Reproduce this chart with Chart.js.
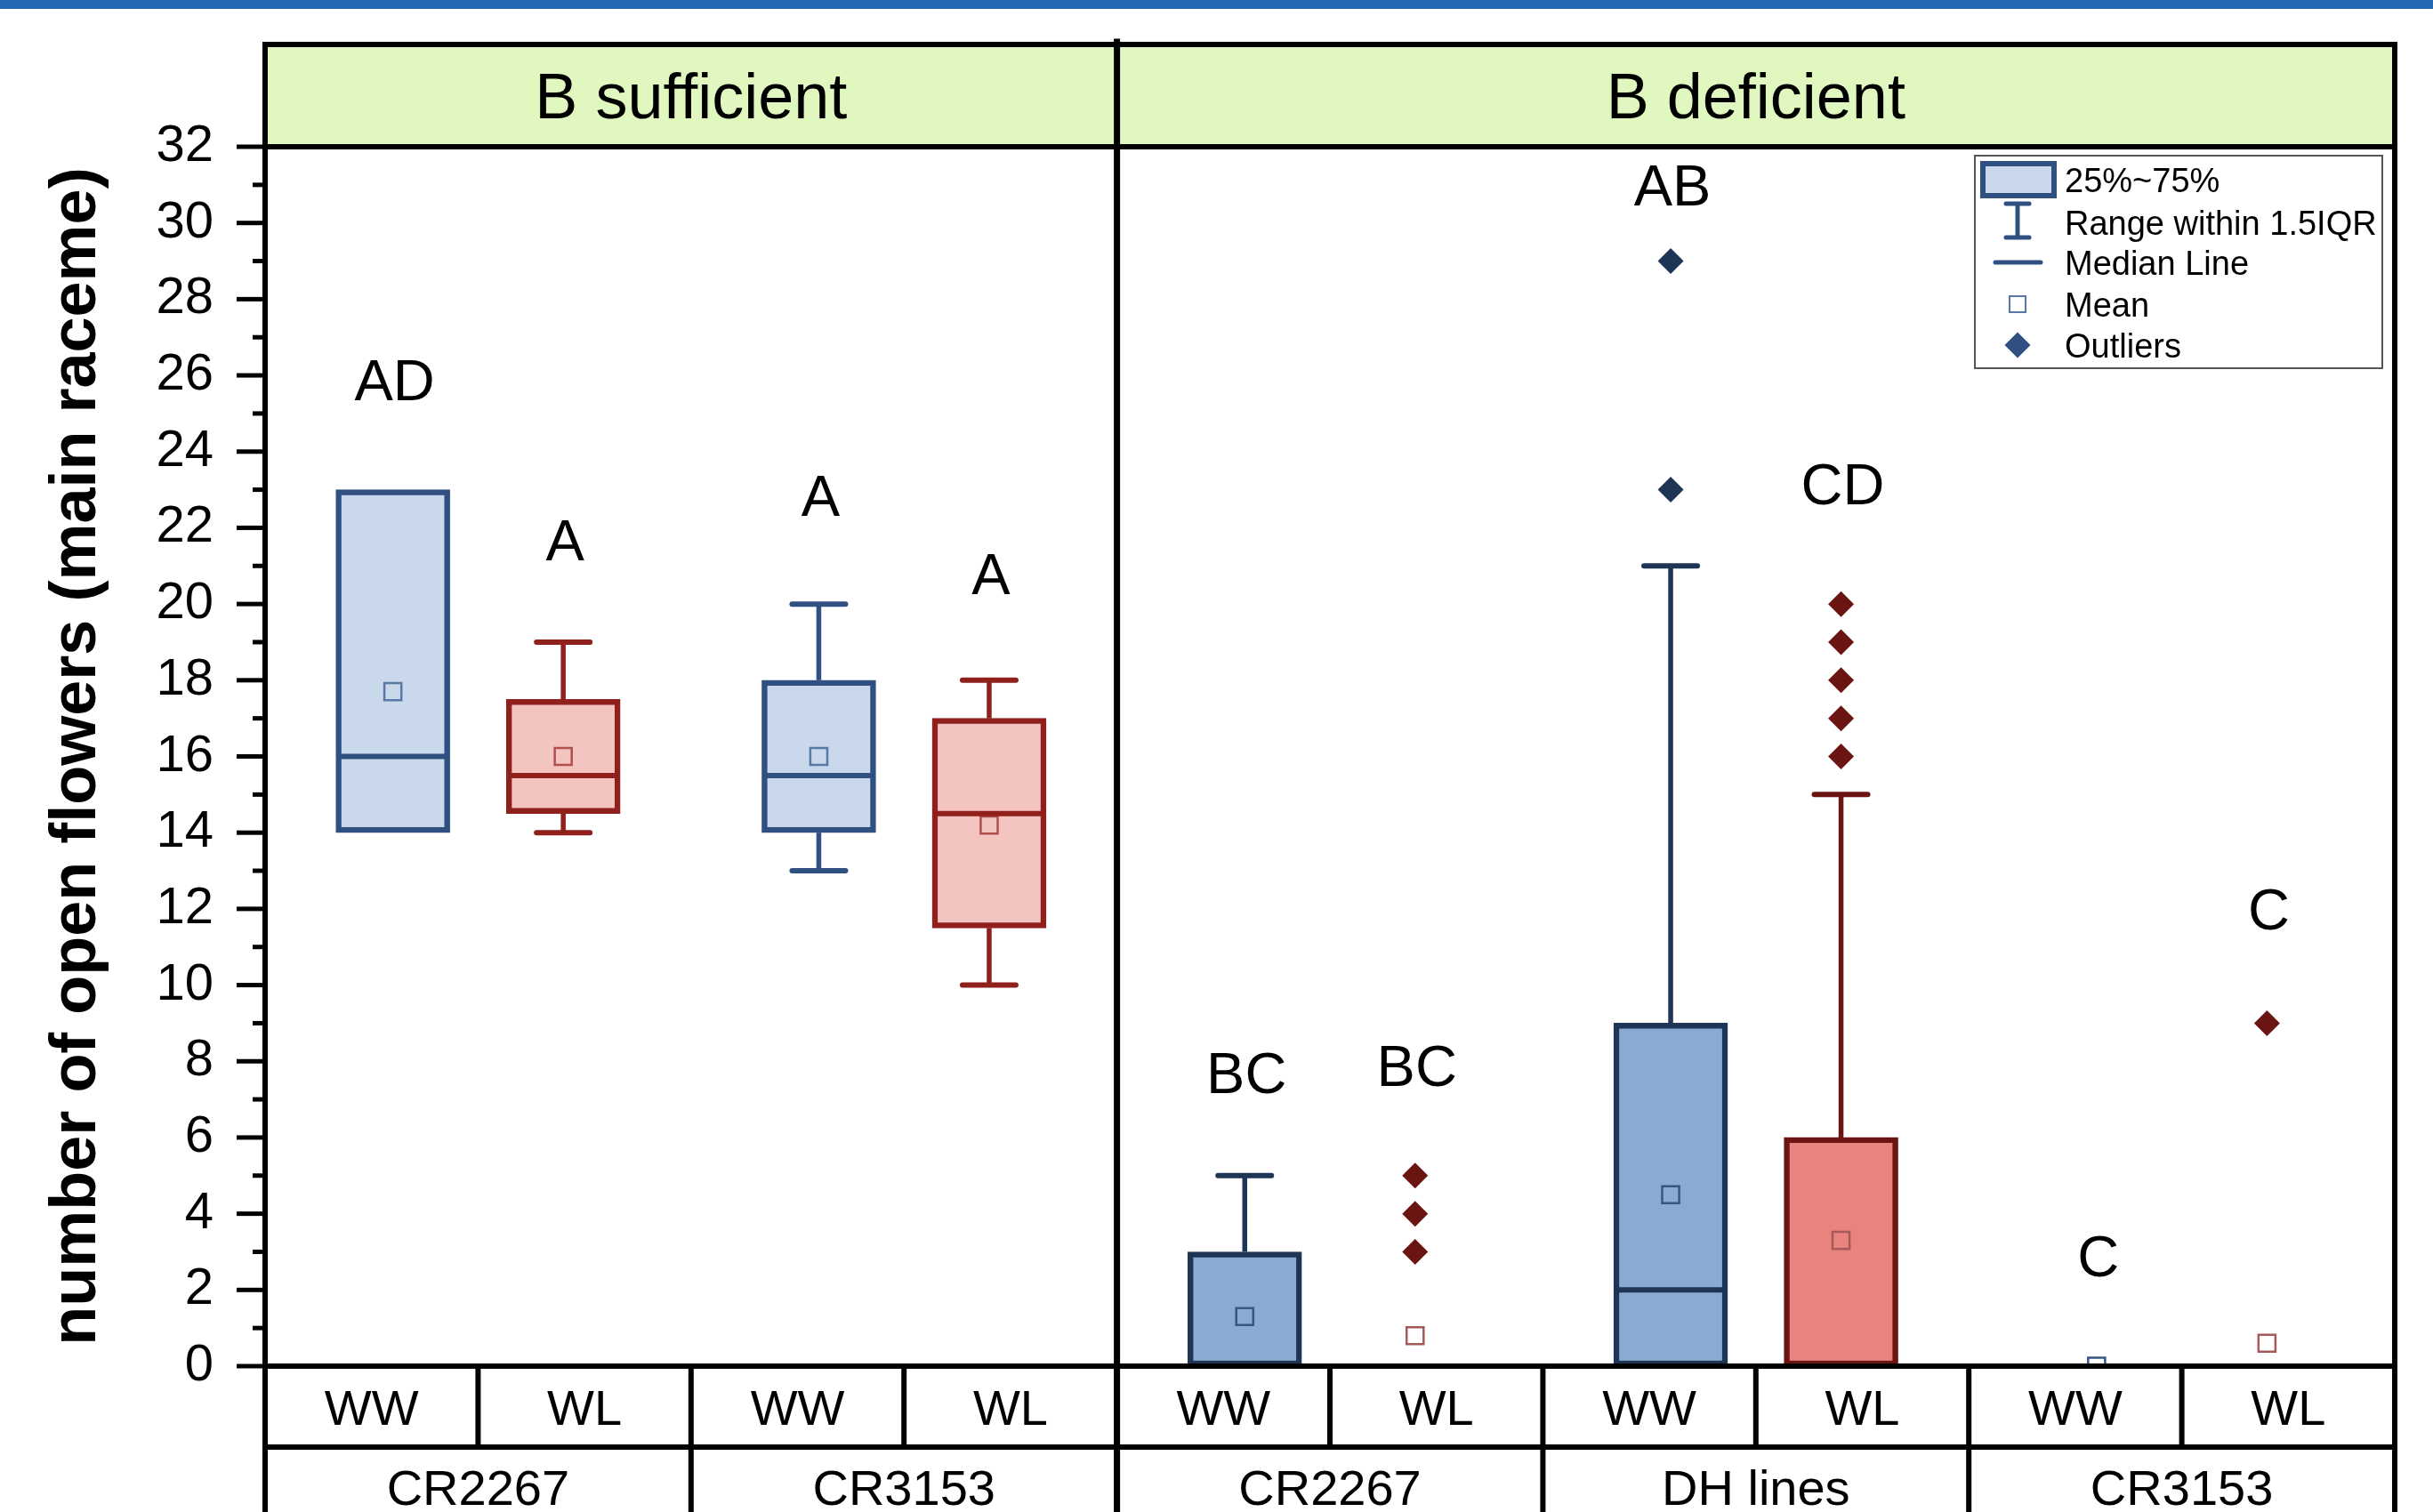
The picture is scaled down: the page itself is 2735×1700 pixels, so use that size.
<!DOCTYPE html>
<html>
<head>
<meta charset="utf-8">
<script src="https://cdn.jsdelivr.net/npm/chart.js@4.4.1/dist/chart.umd.min.js"></script>
<style>
  html, body { margin: 0; padding: 0; background: #fff; }
  #wrap { width: 2735px; height: 1700px; }
</style>
</head>
<body>
<div id="wrap"><canvas id="chart" width="2735" height="1700"></canvas></div>
<script>
// panels, genotypes and water treatments along the x axis
const treatments = ['B sufficient', 'B deficient'];
const treatmentSlots = [4, 6];
const genotypes = ['CR2267', 'CR3153', 'CR2267', 'DH lines', 'CR3153'];
const genotypeSlots = [2, 2, 2, 2, 2];
const waterLabels = ['WW', 'WL', 'WW', 'WL', 'WW', 'WL', 'WW', 'WL', 'WW', 'WL'];

// box statistics (number of open flowers)
const q1 = [14, 14.5, 14, 11.5, 0, 0, 0, 0, 0, 0];
const q3 = [23, 17.5, 18, 17, 3, 0, 9, 6, 0, 0];
const medians = [16, 15.5, 15.5, 14.5, 0, 0, 2, 0, 0, 0];
const whiskerLow = [14, 14, 13, 10, 0, 0, 0, 0, 0, 0];
const whiskerHigh = [23, 19, 20, 18, 5, 0, 21, 15, 0, 0];
const means = [17.7, 16.0, 16.0, 14.2, 1.3, 0.8, 4.5, 3.3, 0, 0.6];
const outliers = [[], [], [], [], [], [3, 4, 5], [23, 29], [16, 17, 18, 19, 20], [], [9]];

// significance letters and the height they sit at
const letters = ['AD', 'A', 'A', 'A', 'BC', 'BC', 'AB', 'CD', 'C', 'C'];
const letterY = [25.9, 21.7, 22.85, 20.8, 7.7, 7.9, 31.0, 23.15, 2.9, 12.0];

const yTitle = 'number of open flowers (main raceme)';
const legendItems = ['25%~75%', 'Range within 1.5IQR', 'Median Line', 'Mean', 'Outliers'];

const FONT = '"Liberation Sans", Arial, sans-serif';
Chart.defaults.font.family = FONT;
Chart.defaults.color = '#000';

// WW boxes sit a bit right of their slot centre, WL boxes a bit left
const positions = waterLabels.map((w, i) => i + 0.5 + (w === 'WW' ? 0.1 : -0.1));

const palette = [
    {
        WW: { fill: '#c9d8eb', line: '#2f5080', mean: '#5a78a6' },
        WL: { fill: '#f4c4c1', line: '#8f201c', mean: '#b0504c' }
    },
    {
        WW: { fill: '#8aaad3', line: '#1f3556', mean: '#3a5580' },
        WL: { fill: '#e8837e', line: '#6b1512', mean: '#a65a58' }
    }
];
const style = i => palette[i < treatmentSlots[0] ? 0 : 1][waterLabels[i]];

const outlierPoints = [];
const outlierColors = [];
outliers.forEach((vals, i) => {
    vals.forEach(v => {
        outlierPoints.push({ x: positions[i], y: v });
        outlierColors.push(style(i).line);
    });
});

const extras = {
    id: 'extras',
    afterDatasetsDraw(chart) {
        const { ctx, scales: { x, y } } = chart;
        ctx.save();
        positions.forEach((p, i) => {
            const s = style(i);
            const px = x.getPixelForValue(p);
            ctx.strokeStyle = s.line;

            const whisker = (from, to) => {
                ctx.lineWidth = 5.5;
                ctx.lineCap = 'butt';
                ctx.beginPath();
                ctx.moveTo(px, y.getPixelForValue(from));
                ctx.lineTo(px, y.getPixelForValue(to));
                ctx.stroke();
                ctx.lineWidth = 6;
                ctx.lineCap = 'round';
                ctx.beginPath();
                ctx.moveTo(px - 30, y.getPixelForValue(to));
                ctx.lineTo(px + 30, y.getPixelForValue(to));
                ctx.stroke();
            };
            if (whiskerHigh[i] > q3[i]) whisker(q3[i], whiskerHigh[i]);
            if (whiskerLow[i] < q1[i]) whisker(q1[i], whiskerLow[i]);

            if (q3[i] > q1[i]) {
                ctx.lineWidth = 6;
                ctx.lineCap = 'butt';
                const my = y.getPixelForValue(medians[i]);
                ctx.beginPath();
                ctx.moveTo(px - 60, my);
                ctx.lineTo(px + 60, my);
                ctx.stroke();
            }
        });
        ctx.restore();
    },
    afterDraw(chart) {
        const { ctx, chartArea, scales: { x, y } } = chart;
        const left = chartArea.left, right = chartArea.right;
        const top = chartArea.top, bottom = chartArea.bottom;
        const headerTop = 50, rowMid = 1627, tableEnd = 1700;
        ctx.save();

        // top blue strip
        ctx.fillStyle = '#2467b3';
        ctx.fillRect(0, 0, chart.width, 10);

        // header band
        ctx.fillStyle = '#e0f8c0';
        ctx.fillRect(left, headerTop, right - left, top - headerTop);

        // letters above the boxes
        ctx.fillStyle = '#000';
        ctx.textAlign = 'center';
        ctx.textBaseline = 'alphabetic';
        ctx.font = '65px ' + FONT;
        letters.forEach((t, i) => {
            ctx.fillText(t, x.getPixelForValue(positions[i]) + 2, y.getPixelForValue(letterY[i]) + 0.358 * 65);
        });

        // frame and table lines
        ctx.strokeStyle = '#000';
        ctx.lineWidth = 6;
        ctx.lineCap = 'square';
        const line = (x1, y1, x2, y2) => {
            ctx.beginPath();
            ctx.moveTo(x1, y1);
            ctx.lineTo(x2, y2);
            ctx.stroke();
        };
        [headerTop, top, bottom, rowMid].forEach(h => line(left, h, right, h));
        line(left, headerTop, left, tableEnd);
        line(right, headerTop, right, tableEnd);
        for (let k = 1; k < waterLabels.length; k++) {
            const vx = x.getPixelForValue(k);
            line(vx, bottom, vx, rowMid);
        }
        let acc = 0;
        genotypeSlots.forEach(n => {
            acc += n;
            if (acc < waterLabels.length) {
                const vx = x.getPixelForValue(acc);
                line(vx, rowMid, vx, tableEnd);
            }
        });
        ctx.lineWidth = 7;
        const divider = x.getPixelForValue(treatmentSlots[0]);
        line(divider, headerTop - 3, divider, tableEnd);

        // y ticks, major on even numbers, minor on odd
        ctx.lineWidth = 5;
        ctx.lineCap = 'butt';
        y.ticks.forEach(t => {
            const py = y.getPixelForValue(t.value);
            const len = t.value % 2 ? 14 : 32;
            line(left - len, py, left, py);
        });

        // header texts
        ctx.font = '72px ' + FONT;
        let start = 0;
        treatments.forEach((t, k) => {
            const cx = (x.getPixelForValue(start) + x.getPixelForValue(start + treatmentSlots[k])) / 2;
            ctx.fillText(t, cx, (headerTop + top) / 2 + 0.358 * 72);
            start += treatmentSlots[k];
        });

        // table texts
        ctx.font = '56px ' + FONT;
        waterLabels.forEach((w, i) => {
            ctx.fillText(w, x.getPixelForValue(i + 0.5), (bottom + rowMid) / 2 + 0.358 * 56);
        });
        start = 0;
        genotypes.forEach((g, k) => {
            const cx = (x.getPixelForValue(start) + x.getPixelForValue(start + genotypeSlots[k])) / 2;
            ctx.fillText(g, cx, 1692);
            start += genotypeSlots[k];
        });

        // y axis title
        ctx.save();
        ctx.translate(107, (top + bottom) / 2);
        ctx.rotate(-Math.PI / 2);
        ctx.font = 'bold 72px ' + FONT;
        ctx.fillText(yTitle, 0, 0);
        ctx.restore();

        // legend
        const lx = 2220, ly = 175, lw = 458, lh = 239;
        ctx.fillStyle = '#fff';
        ctx.fillRect(lx, ly, lw, lh);
        ctx.strokeStyle = '#555';
        ctx.lineWidth = 2;
        ctx.strokeRect(lx, ly, lw, lh);
        const ls = palette[0].WW;
        const rows = [202, 250, 295, 342, 388];
        const sx = 2268;
        // box
        ctx.fillStyle = ls.fill;
        ctx.strokeStyle = ls.line;
        ctx.lineWidth = 6;
        ctx.fillRect(2229, 184, 80, 36);
        ctx.strokeRect(2229, 184, 80, 36);
        // whisker
        ctx.lineWidth = 5;
        ctx.lineCap = 'butt';
        line(sx, 229, sx, 267);
        ctx.lineCap = 'round';
        line(sx - 13, 229, sx + 13, 229);
        line(sx - 13, 267, sx + 13, 267);
        // median
        line(2243, rows[2], 2294, rows[2]);
        // mean
        ctx.lineWidth = 2;
        ctx.strokeStyle = ls.mean;
        ctx.strokeRect(sx - 9, rows[3] - 9, 18, 18);
        // outlier
        ctx.fillStyle = ls.line;
        ctx.beginPath();
        ctx.moveTo(sx, rows[4] - 14.5);
        ctx.lineTo(sx + 14.5, rows[4]);
        ctx.lineTo(sx, rows[4] + 14.5);
        ctx.lineTo(sx - 14.5, rows[4]);
        ctx.closePath();
        ctx.fill();
        // legend texts
        ctx.fillStyle = '#000';
        ctx.textAlign = 'left';
        ctx.font = '38px ' + FONT;
        legendItems.forEach((t, k) => ctx.fillText(t, 2321, rows[k] + 0.358 * 38));

        ctx.restore();
    }
};

new Chart(document.getElementById('chart'), {
    type: 'bar',
    data: {
        datasets: [
            {
                type: 'scatter',
                label: 'Mean',
                data: positions.map((p, i) => ({ x: p, y: means[i] })),
                pointStyle: 'rect',
                radius: 13.5,
                borderWidth: 2.5,
                backgroundColor: 'rgba(0,0,0,0)',
                borderColor: positions.map((p, i) => style(i).mean),
                order: 1
            },
            {
                type: 'scatter',
                label: 'Outliers',
                data: outlierPoints,
                pointStyle: 'rectRot',
                radius: 14.5,
                borderWidth: 0,
                backgroundColor: outlierColors,
                order: 2
            },
            {
                type: 'bar',
                label: '25%~75%',
                data: positions.map((p, i) => ({ x: p, y: [q1[i], q3[i]] })),
                backgroundColor: positions.map((p, i) => style(i).fill),
                borderColor: positions.map((p, i) => style(i).line),
                borderWidth: 6.5,
                borderSkipped: false,
                barThickness: 128,
                grouped: false,
                order: 3
            }
        ]
    },
    options: {
        responsive: false,
        animation: false,
        layout: { padding: { left: 0, top: 165, right: 43, bottom: 164 } },
        plugins: {
            legend: { display: false },
            tooltip: { enabled: false }
        },
        scales: {
            x: {
                type: 'linear',
                min: 0,
                max: 10,
                offset: false,
                display: false
            },
            y: {
                type: 'linear',
                min: 0,
                max: 32,
                afterFit: scale => { scale.width = 298; },
                border: { display: false },
                grid: { display: false, drawTicks: false },
                ticks: {
                    stepSize: 1,
                    autoSkip: false,
                    padding: 58,
                    font: { size: 58 },
                    color: '#000',
                    callback: v => (v % 2 === 0 ? v : '')
                }
            }
        }
    },
    plugins: [extras]
});
</script>
</body>
</html>
